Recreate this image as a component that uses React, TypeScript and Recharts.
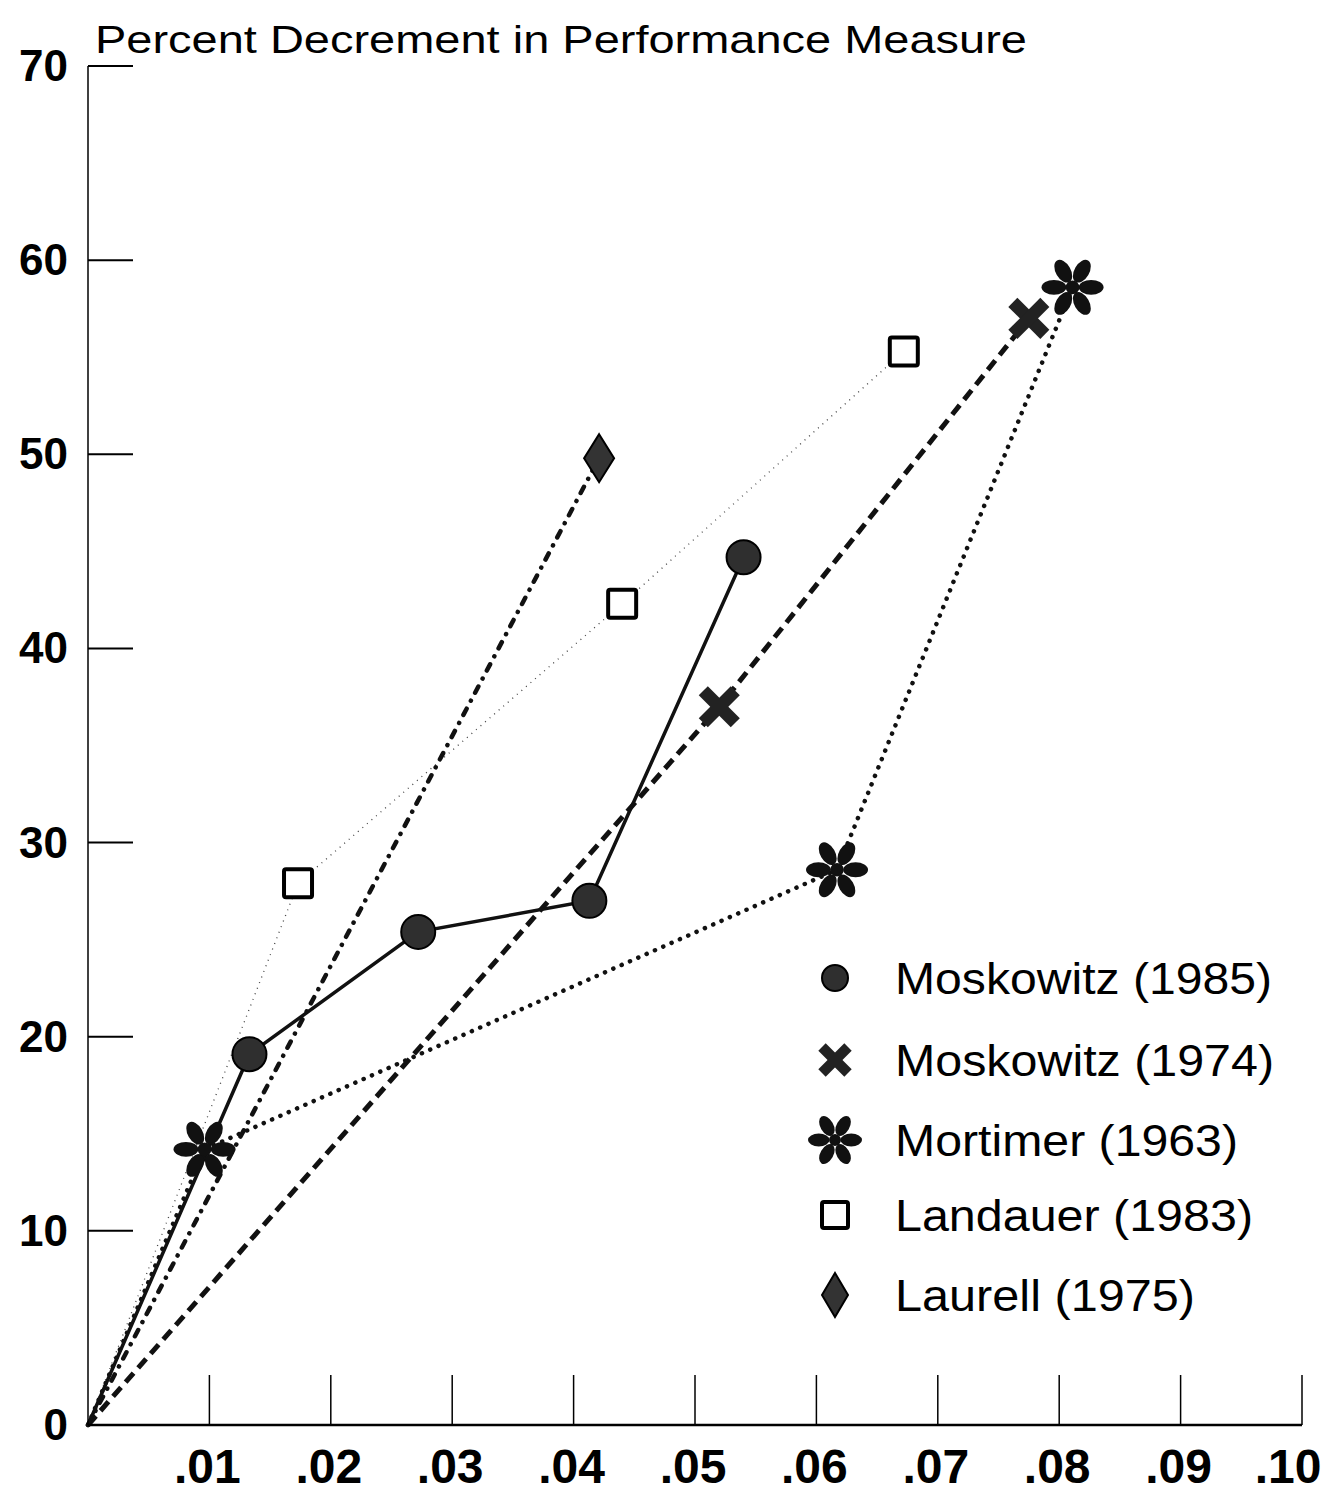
import { LineChart, Line, XAxis, YAxis, Legend, Customized } from 'recharts';

const FONT = '"Liberation Sans", Arial, Helvetica, sans-serif';
const INK = '#111';

const seriesNames = ['Moskowitz (1985)', 'Moskowitz (1974)', 'Mortimer (1963)', 'Landauer (1983)', 'Laurell (1975)'];

// x = dose, y = percent decrement; every study line starts at the origin
const mosk85X = [0, 0.0133, 0.0272, 0.0413, 0.054];
const mosk85Y = [0, 19.1, 25.4, 27.0, 44.7];

const mosk74X = [0, 0.052, 0.0775];
const mosk74Y = [0, 37.0, 57.0];

const mortX = [0, 0.0096, 0.0617, 0.0811];
const mortY = [0, 14.2, 28.6, 58.6];

const landX = [0, 0.0173, 0.044, 0.0672];
const landY = [0, 27.9, 42.3, 55.3];

const laurX = [0, 0.0421];
const laurY = [0, 49.8];

const yTicks = [0, 10, 20, 30, 40, 50, 60, 70];
const xTicks = [0.01, 0.02, 0.03, 0.04, 0.05, 0.06, 0.07, 0.08, 0.09, 0.1];
const xTickLabels = ['.01', '.02', '.03', '.04', '.05', '.06', '.07', '.08', '.09', '.10'];

const toPoints = (xs: number[], ys: number[]) => xs.map((x, i) => ({ x, y: ys[i] }));

// marker shapes
const CircleMark = ({ cx, cy, r = 17 }: any) => (
  <circle cx={cx} cy={cy} r={r} fill="#2f2f2f" stroke="#000" strokeWidth={2} />
);

const CrossMark = ({ cx, cy, s = 16 }: any) => (
  <g stroke="#222" strokeWidth={s * 0.8}>
    <line x1={cx - s} y1={cy - s} x2={cx + s} y2={cy + s} />
    <line x1={cx - s} y1={cy + s} x2={cx + s} y2={cy - s} />
  </g>
);

// six rounded petals, fatter towards the tip
const StarMark = ({ cx, cy, len = 31 }: any) => (
  <g fill="#111">
    {[0, 60, 120, 180, 240, 300].map((a) => (
      <ellipse
        key={a}
        cx={cx + len * 0.6}
        cy={cy}
        rx={len * 0.4}
        ry={len * 0.24}
        transform={`rotate(${a} ${cx} ${cy})`}
      />
    ))}
    <circle cx={cx} cy={cy} r={len * 0.22} />
  </g>
);

const SquareMark = ({ cx, cy, s = 14 }: any) => (
  <rect x={cx - s} y={cy - s} width={s * 2} height={s * 2} rx={2} fill="#fff" stroke="#000" strokeWidth={4} />
);

const DiamondMark = ({ cx, cy, w = 15, h = 24 }: any) => (
  <polygon
    points={`${cx},${cy - h} ${cx + w},${cy} ${cx},${cy + h} ${cx - w},${cy}`}
    fill="#333"
    stroke="#000"
    strokeWidth={2}
  />
);

const dotWith = (Mark: any) => (props: any) => {
  const { cx, cy, index } = props;
  if (index === 0) return <g key={`o-${index}`} />;
  return <Mark key={`m-${index}`} cx={cx} cy={cy} />;
};

const YTick = (props: any) => {
  const { x, y, payload } = props;
  return (
    <g>
      {payload.value !== 0 && <line x1={x} x2={x + 45} y1={y} y2={y} stroke="#000" strokeWidth={2} />}
      <text x={x - 20} y={y} dy={15} textAnchor="end" fontSize={44} fontWeight="bold" fontFamily={FONT} fill="#000">
        {payload.value}
      </text>
    </g>
  );
};

const XTick = (props: any) => {
  const { x, y, index } = props;
  const last = index === xTickLabels.length - 1;
  return (
    <g>
      <line x1={x} x2={x} y1={y} y2={y - 50} stroke="#000" strokeWidth={1.5} />
      <text
        x={last ? x - 14 : x - 2}
        y={y + 58}
        textAnchor="middle"
        fontSize={48}
        fontWeight="bold"
        fontFamily={FONT}
        fill="#000"
      >
        {xTickLabels[index]}
      </text>
    </g>
  );
};

const Title = () => (
  <text x={95} y={53} fontSize={39} fontFamily={FONT} fill="#000" textLength={932} lengthAdjust="spacingAndGlyphs">
    Percent Decrement in Performance Measure
  </text>
);

const legendMarks = [
  (cx: number, cy: number) => <CircleMark cx={cx} cy={cy} r={13} />,
  (cx: number, cy: number) => <CrossMark cx={cx} cy={cy} s={13} />,
  (cx: number, cy: number) => <StarMark cx={cx} cy={cy} len={27} />,
  (cx: number, cy: number) => <SquareMark cx={cx} cy={cy} s={13} />,
  (cx: number, cy: number) => <DiamondMark cx={cx} cy={cy} w={13} h={22} />,
];
const legendRowY = [48, 130, 210, 285, 365];
const legendTextW = [377, 379, 343, 358, 300];

const LegendBox = () => (
  <svg width={540} height={400}>
    {seriesNames.map((name, i) => (
      <g key={name}>
        {legendMarks[i](45, legendRowY[i])}
        <text
          x={105}
          y={legendRowY[i] + 16}
          fontSize={44}
          fontFamily={FONT}
          fill="#000"
          textLength={legendTextW[i]}
          lengthAdjust="spacingAndGlyphs"
        >
          {name}
        </text>
      </g>
    ))}
  </svg>
);

export default function App() {
  return (
    <div style={{ position: 'absolute', left: 0, top: 0, background: '#fff' }}>
      <LineChart width={1327} height={1498} margin={{ top: 66, right: 25, bottom: 0, left: 8 }}>
        <XAxis
          type="number"
          dataKey="x"
          domain={[0, 0.1]}
          ticks={xTicks}
          height={73}
          tickSize={0}
          tickMargin={0}
          tickLine={false}
          axisLine={{ stroke: '#000', strokeWidth: 2.5 }}
          tick={<XTick />}
          interval={0}
        />
        <YAxis
          type="number"
          dataKey="y"
          domain={[0, 70]}
          ticks={yTicks}
          width={80}
          tickSize={0}
          tickMargin={0}
          tickLine={false}
          axisLine={{ stroke: '#000', strokeWidth: 1.5 }}
          tick={<YTick />}
          interval={0}
        />
        <Line
          data={toPoints(landX, landY)}
          dataKey="y"
          name={seriesNames[3]}
          stroke="#444"
          strokeWidth={1.3}
          strokeDasharray="1 5"
          dot={dotWith(SquareMark)}
          activeDot={false}
          isAnimationActive={false}
        />
        <Line
          data={toPoints(laurX, laurY)}
          dataKey="y"
          name={seriesNames[4]}
          stroke={INK}
          strokeWidth={4.5}
          strokeDasharray="7 9 0.1 9"
          strokeLinecap="round"
          dot={dotWith(DiamondMark)}
          activeDot={false}
          isAnimationActive={false}
        />
        <Line
          data={toPoints(mortX, mortY)}
          dataKey="y"
          name={seriesNames[2]}
          stroke={INK}
          strokeWidth={4.5}
          strokeDasharray="0.1 9"
          strokeLinecap="round"
          dot={dotWith(StarMark)}
          activeDot={false}
          isAnimationActive={false}
        />
        <Line
          data={toPoints(mosk74X, mosk74Y)}
          dataKey="y"
          name={seriesNames[1]}
          stroke={INK}
          strokeWidth={5}
          strokeDasharray="12 7"
          dot={dotWith(CrossMark)}
          activeDot={false}
          isAnimationActive={false}
        />
        <Line
          data={toPoints(mosk85X, mosk85Y)}
          dataKey="y"
          name={seriesNames[0]}
          stroke={INK}
          strokeWidth={3.5}
          dot={dotWith(CircleMark)}
          activeDot={false}
          isAnimationActive={false}
        />
        <Legend
          layout="horizontal"
          verticalAlign="middle"
          align="center"
          content={() => <LegendBox />}
          wrapperStyle={{ left: 790, top: 930, width: 540, height: 400 }}
        />
        <Customized component={<Title />} />
      </LineChart>
    </div>
  );
}
